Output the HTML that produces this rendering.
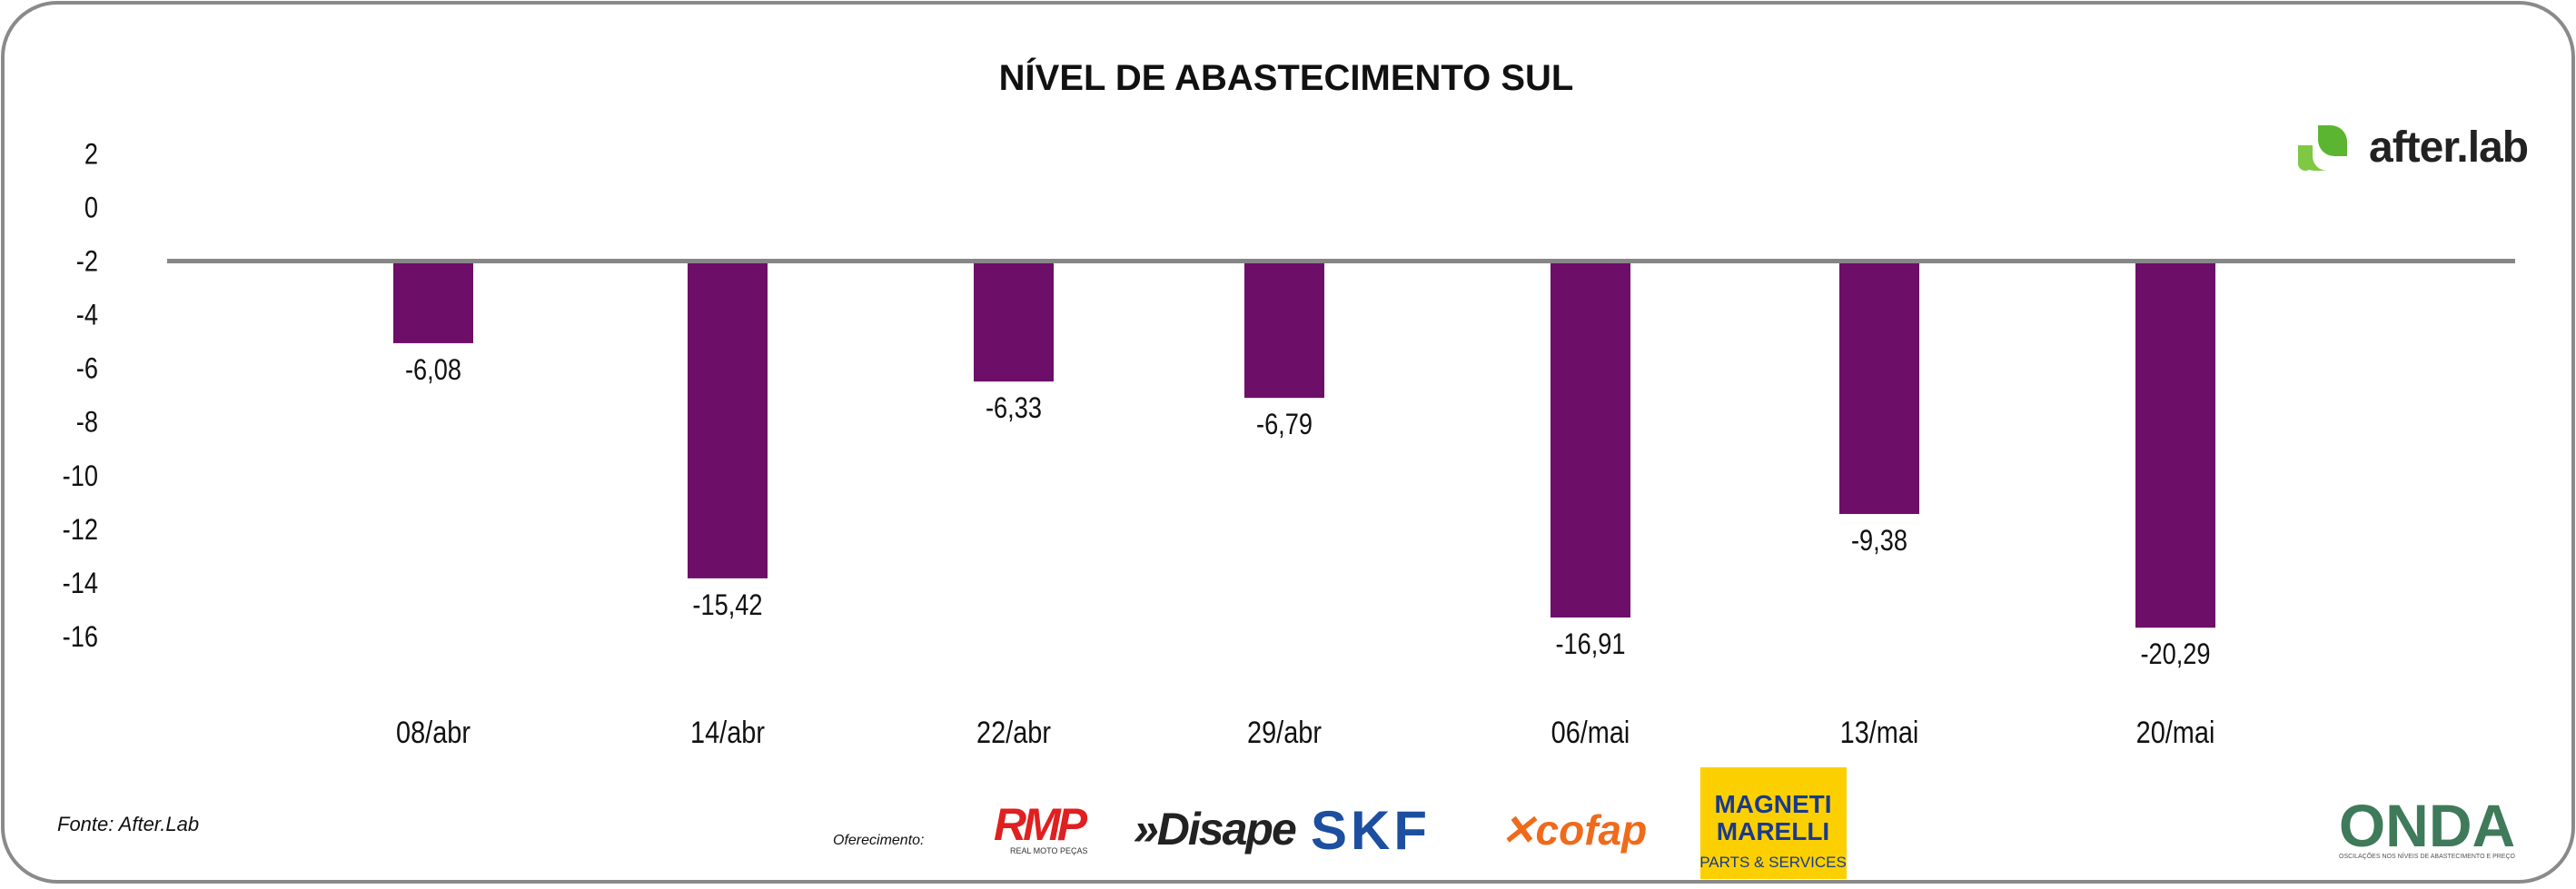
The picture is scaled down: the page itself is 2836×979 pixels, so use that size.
<!DOCTYPE html>
<html><head><meta charset="utf-8">
<style>
html,body{margin:0;padding:0;background:#fff;}
body{width:2836px;height:974px;overflow:hidden;position:relative;font-family:"Liberation Sans Narrow","Liberation Sans",sans-serif;}
</style></head>
<body>
<svg width="2836" height="974" viewBox="0 0 2836 974" xmlns="http://www.w3.org/2000/svg" id="svg">
<rect x="3" y="3" width="2830" height="968" rx="60" ry="60" fill="#fff" stroke="#8a8a8a" stroke-width="4"/>
<text x="1416" y="99" text-anchor="middle" font-family="Liberation Sans, sans-serif" font-weight="bold" font-size="40" fill="#111">NÍVEL DE ABASTECIMENTO SUL</text>
<g id="yaxis"></g>
<g id="bars"></g>
<line id="baseline" x1="184" x2="2769" stroke="#868686" stroke-width="5"/>
<g id="xaxis"></g>
<g>
<path d="M2552 138 h14 a18 18 0 0 1 18 18 v16 h-14 a18 18 0 0 1 -18 -18z" fill="#5cb531"/>
<path d="M2530 160 h16 v12 a16 16 0 0 0 16 16 h4 v0 h-18 a18 18 0 0 1 -18 -18z" fill="#7ec843"/>
<rect x="2530" y="160" width="16" height="28" rx="8" fill="#7ec843"/>
<text x="2608" y="178" font-family="Liberation Sans, sans-serif" font-weight="bold" font-size="48" fill="#222" letter-spacing="-1">after.lab</text>
</g>
<text x="63" y="915" font-family="Liberation Sans, sans-serif" font-style="italic" font-size="22" fill="#111">Fonte: After.Lab</text>
<text x="917" y="930" font-family="Liberation Sans, sans-serif" font-style="italic" font-size="16" fill="#111">Oferecimento:</text>
<g>
<text x="1094" y="925" font-family="Liberation Sans, sans-serif" font-weight="bold" font-style="italic" font-size="50" fill="#e02020" letter-spacing="-4">RMP</text>
<text x="1112" y="940" font-family="Liberation Sans, sans-serif" font-size="9" fill="#333">REAL MOTO PEÇAS</text>
</g>
<text x="1248" y="930" font-family="Liberation Sans, sans-serif" font-weight="bold" font-style="italic" font-size="50" fill="#222" letter-spacing="-2">»Disape</text>
<text x="1443" y="935" font-family="Liberation Sans, sans-serif" font-weight="bold" font-size="60" fill="#1d4fa0" letter-spacing="4">SKF</text>
<text x="1652" y="930" font-family="Liberation Sans, sans-serif" font-weight="bold" font-style="italic" font-size="46" fill="#f06a1c">✕cofap</text>
<g>
<rect x="1872" y="845" width="161" height="123" fill="#fcd000"/>
<text x="1952" y="895" text-anchor="middle" font-family="Liberation Sans, sans-serif" font-weight="bold" font-size="28" fill="#1a3a8c">MAGNETI</text>
<text x="1952" y="925" text-anchor="middle" font-family="Liberation Sans, sans-serif" font-weight="bold" font-size="28" fill="#1a3a8c">MARELLI</text>
<text x="1952" y="955" text-anchor="middle" font-family="Liberation Sans, sans-serif" font-size="17" fill="#1a3a8c">PARTS &amp; SERVICES</text>
</g>
<g>
<text x="2672" y="932" text-anchor="middle" font-family="Liberation Sans, sans-serif" font-weight="bold" font-size="66" fill="#3f7a5a">ONDA</text>
<text x="2672" y="945" text-anchor="middle" font-family="Liberation Sans, sans-serif" font-size="7" fill="#555">OSCILAÇÕES NOS NÍVEIS DE ABASTECIMENTO E PREÇO</text>
</g>
</svg>
<script>
const categories = ["08/abr","14/abr","22/abr","29/abr","06/mai","13/mai","20/mai"];
const barValues = [-5.06,-13.83,-6.49,-7.10,-15.29,-11.43,-15.67];
const valueLabels = ["-6,08","-15,42","-6,33","-6,79","-16,91","-9,38","-20,29"];
const yTicks = [2,0,-2,-4,-6,-8,-10,-12,-14,-16];
const baseValue = -2;

const NS="http://www.w3.org/2000/svg";
function y(v){return 228.5 - v*29.53;}
const centers=[477,801,1116,1414,1751,2069,2395];
function x(i){return centers[i];}
const yg=document.getElementById('yaxis'),bg=document.getElementById('bars'),xg=document.getElementById('xaxis');
document.getElementById('baseline').setAttribute('y1',y(baseValue));
document.getElementById('baseline').setAttribute('y2',y(baseValue));
function narrow(el,cx){el.setAttribute('transform','translate('+cx+',0) scale(0.85,1) translate('+(-cx)+',0)');}
yTicks.forEach(t=>{
  const el=document.createElementNS(NS,'text');
  
  
  el.setAttribute('x',108);el.setAttribute('y',y(t)+11);
  el.setAttribute('text-anchor','end');el.setAttribute('font-size','32');el.setAttribute('fill','#111');
  el.textContent=String(t);narrow(el,108);yg.appendChild(el);
});
categories.forEach((c,i)=>{
  const top=y(baseValue), bot=y(barValues[i]);
  const r=document.createElementNS(NS,'rect');
  
  
  r.setAttribute('x',x(i)-44);r.setAttribute('width',88);
  r.setAttribute('y',Math.min(top,bot));r.setAttribute('height',Math.abs(bot-top));
  r.setAttribute('fill','#6d0e68');bg.appendChild(r);
  const l=document.createElementNS(NS,'text');
  
  
  l.setAttribute('x',x(i));l.setAttribute('y',bot+40);
  l.setAttribute('text-anchor','middle');l.setAttribute('font-size','32');l.setAttribute('fill','#111');
  l.textContent=valueLabels[i];narrow(l,x(i));bg.appendChild(l);
  const t=document.createElementNS(NS,'text');
  
  
  t.setAttribute('x',x(i));t.setAttribute('y',818);
  t.setAttribute('text-anchor','middle');t.setAttribute('font-size','34');t.setAttribute('fill','#111');
  t.textContent=c;narrow(t,x(i));xg.appendChild(t);
});
</script>
</body></html>
